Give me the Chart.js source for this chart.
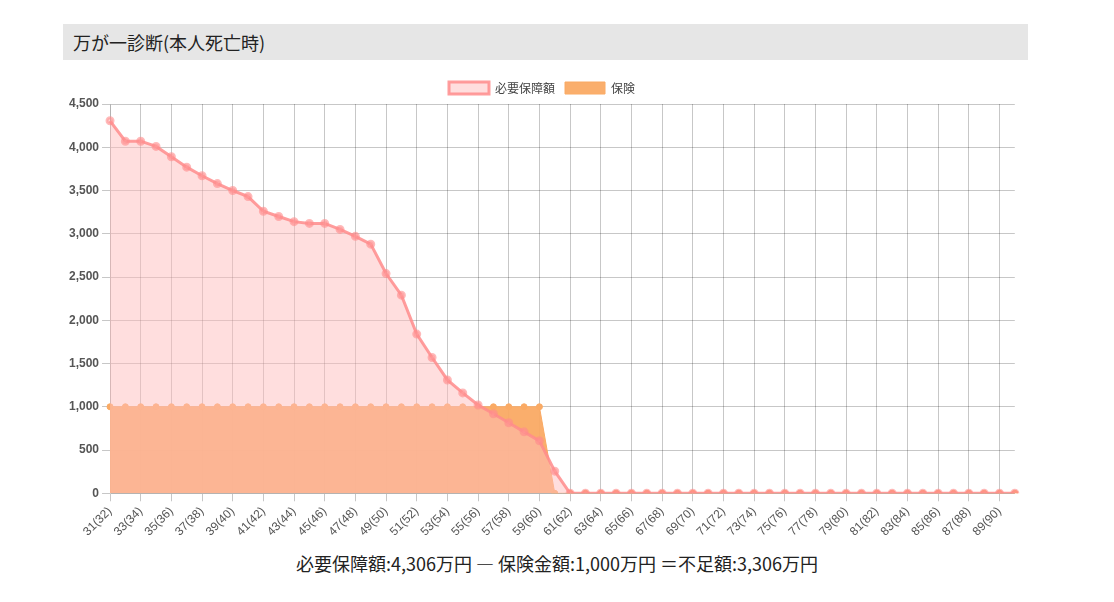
<!DOCTYPE html>
<html><head><meta charset="utf-8">
<script src="https://cdn.jsdelivr.net/npm/chart.js@4"></script>
<style>
body{margin:0;background:#fff;font-family:"Noto Sans CJK JP","Noto Sans",sans-serif;}
#title{position:absolute;left:63px;top:24px;width:955px;height:36px;background:#e6e6e6;font-size:18px;line-height:36px;padding-left:10px;color:#222;}
#wrap{position:absolute;left:66px;top:72px;width:962px;height:470px;}
#foot{position:absolute;left:0;width:1114px;top:550px;text-align:center;font-size:18px;color:#222;}
</style></head><body>
<div id="title">万が一診断(本人死亡時)</div>
<div id="wrap"><canvas id="c"></canvas></div>
<div id="foot">必要保障額:4,306万円 ― 保険金額:1,000万円 ＝不足額:3,306万円</div>
<script>
const ages=[];for(let a=31;a<=90;a++)ages.push(a+"("+(a+1)+")");
const required=[4306,4070,4070,4010,3890,3770,3670,3580,3500,3430,3260,3200,3140,3120,3120,3050,2970,2880,2540,2290,1840,1570,1310,1160,1020,920,816,710,606,256,
0,0,0,0,0,0,0,0,0,0,0,0,0,0,0,0,0,0,0,0,0,0,0,0,0,0,0,0,0,0];
const insurance=[1000,1000,1000,1000,1000,1000,1000,1000,1000,1000,1000,1000,1000,1000,1000,1000,1000,1000,1000,1000,1000,1000,1000,1000,1000,1000,1000,1000,1000,0,
0,0,0,0,0,0,0,0,0,0,0,0,0,0,0,0,0,0,0,0,0,0,0,0,0,0,0,0,0,0];
new Chart(document.getElementById('c'),{type:'line',
data:{labels:ages,datasets:[
{label:'必要保障額',data:required,borderColor:'rgba(255,140,140,0.85)',backgroundColor:'rgba(255,190,190,0.5)',fill:'origin',borderWidth:3,pointRadius:3,pointBackgroundColor:'rgba(255,150,150,0.4)',pointBorderColor:'rgba(255,140,140,0.6)',tension:0,order:0},
{label:'保険',data:insurance,borderColor:'rgba(250,170,100,1)',backgroundColor:'rgba(250,170,100,0.95)',fill:'origin',borderWidth:1,pointRadius:3,pointBackgroundColor:'rgba(250,170,100,1)',tension:0,order:1}
]},
options:{responsive:true,maintainAspectRatio:false,animation:false,
layout:{padding:{left:0,right:10}},
plugins:{legend:{labels:{font:{size:12,family:'Noto Sans CJK JP'},color:'#444',boxWidth:40,boxHeight:12}}},
scales:{x:{grid:{color:c=>c.index%2===0?'rgba(0,0,0,0.22)':'rgba(0,0,0,0)'},ticks:{maxRotation:45,minRotation:45,autoSkip:false,color:'#555',font:{size:12},callback:function(v,i){return i%2===0?this.getLabelForValue(v):'';}}},
y:{min:0,max:4500,grid:{color:'rgba(0,0,0,0.22)'},ticks:{stepSize:500,color:'#555',font:{size:12,weight:'bold'},callback:v=>v.toLocaleString('en-US')}}}}});
</script></body></html>
